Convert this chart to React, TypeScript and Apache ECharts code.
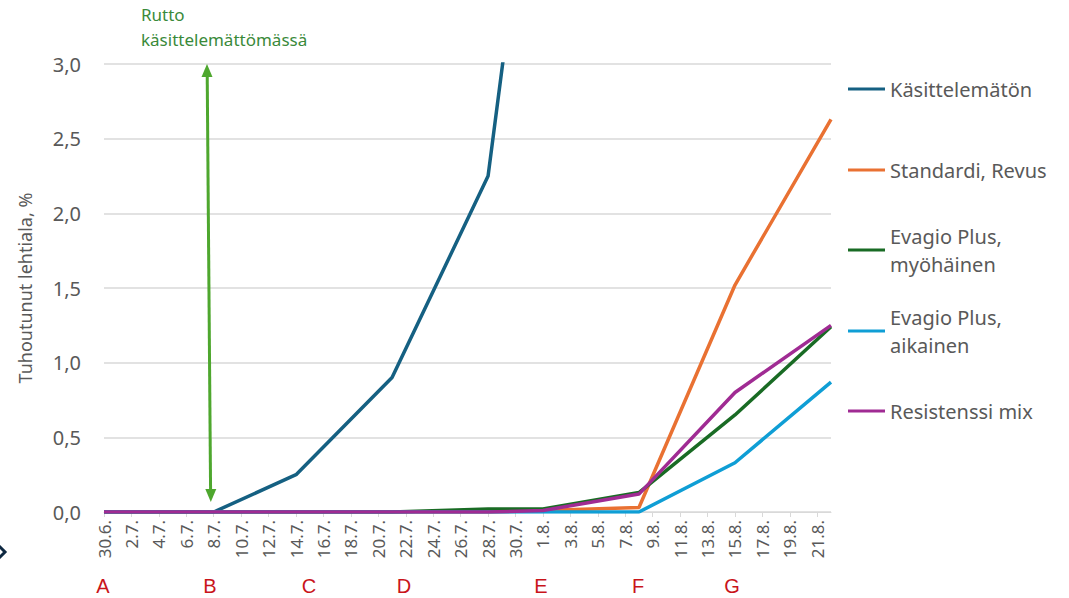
import React, { useEffect, useRef } from "react";
import * as echarts from "echarts";

// Daily categories 30.6. – 22.8.
const categories = [
  "30.6.",
  "1.7.", "2.7.", "3.7.", "4.7.", "5.7.", "6.7.", "7.7.", "8.7.", "9.7.", "10.7.",
  "11.7.", "12.7.", "13.7.", "14.7.", "15.7.", "16.7.", "17.7.", "18.7.", "19.7.", "20.7.",
  "21.7.", "22.7.", "23.7.", "24.7.", "25.7.", "26.7.", "27.7.", "28.7.", "29.7.", "30.7.", "31.7.",
  "1.8.", "2.8.", "3.8.", "4.8.", "5.8.", "6.8.", "7.8.", "8.8.", "9.8.", "10.8.",
  "11.8.", "12.8.", "13.8.", "14.8.", "15.8.", "16.8.", "17.8.", "18.8.", "19.8.", "20.8.",
  "21.8.", "22.8.",
];

const seriesNames = [
  "Käsittelemätön",
  "Standardi, Revus",
  "Evagio Plus,\nmyöhäinen",
  "Evagio Plus,\naikainen",
  "Resistenssi mix",
];
const seriesColors = ["#156082", "#e97132", "#196b24", "#0f9ed5", "#a02b93"];

const untreatedDates = ["30.6.", "8.7.", "14.7.", "21.7.", "28.7.", "4.8."];
const untreatedValues = [0, 0, 0.25, 0.9, 2.25, 7.2];

const obsDates = ["30.6.", "8.7.", "14.7.", "21.7.", "28.7.", "1.8.", "8.8.", "15.8.", "22.8."];
const standardiValues = [0, 0, 0, 0, 0, 0.01, 0.03, 1.52, 2.63];
const myohainenValues = [0, 0, 0, 0, 0.02, 0.02, 0.13, 0.65, 1.24];
const aikainenValues = [0, 0, 0, 0, 0, 0, 0, 0.33, 0.87];
const resistenssiValues = [0, 0, 0, 0, 0, 0.01, 0.12, 0.8, 1.25];

const yTicks = { min: 0, max: 3, interval: 0.5 };

const phaseLetters = ["A", "B", "C", "D", "E", "F", "G"];
const phaseX = [103, 210, 309, 404, 541, 638, 732];

const FONT = "'Noto Sans', 'DejaVu Sans', sans-serif";
const GRAY = "#595959";

export default function App() {
  const ref = useRef<HTMLDivElement>(null);

  useEffect(() => {
    if (!ref.current) return;
    const chart = echarts.init(ref.current, undefined, { renderer: "svg" });

    const valueSets = [untreatedValues, standardiValues, myohainenValues, aikainenValues, resistenssiValues];
    const series = seriesNames.map((name, i) => {
      const dates = i === 0 ? untreatedDates : obsDates;
      return {
        name,
        type: "line",
        data: dates.map((d, j) => [d, valueSets[i][j]]),
        showSymbol: false,
        symbol: "none",
        lineStyle: { color: seriesColors[i], width: 3.5 },
        itemStyle: { color: seriesColors[i] },
        clip: true,
        z: 2 + i,
      };
    });

    const legendIconY = [89, 170, 250, 331, 411];
    const legends = seriesNames.map((name, i) => {
      const twoLine = name.includes("\n");
      return {
        data: [name],
        left: 848,
        top: twoLine ? legendIconY[i] - 42 : legendIconY[i] - 12,
        padding: 0,
        icon: "rect",
        itemWidth: 37,
        itemHeight: 3,
        itemGap: 0,
        selectedMode: false,
        textStyle: twoLine
          ? { fontSize: 20, color: GRAY, fontFamily: FONT, lineHeight: 28, padding: [28, 0, 0, 0] }
          : { fontSize: 20, color: GRAY, fontFamily: FONT, lineHeight: 24 },
      };
    });

    const arrowColor = "#4ea72e";
    const graphics: any[] = [
      {
        type: "line",
        shape: { x1: 207.2, y1: 74, x2: 210.6, y2: 492 },
        style: { stroke: arrowColor, lineWidth: 3 },
        z: 10,
      },
      {
        type: "polygon",
        shape: { points: [[207, 64], [201.5, 77], [212.5, 77]] },
        style: { fill: arrowColor },
        z: 10,
      },
      {
        type: "polygon",
        shape: { points: [[210.8, 502], [205.3, 489], [216.3, 489]] },
        style: { fill: arrowColor },
        z: 10,
      },
      {
        type: "text",
        left: 141,
        top: 2,
        style: {
          text: "Rutto\nkäsittelemättömässä",
          fill: "#3a8a3a",
          font: `17px ${FONT}`,
          lineHeight: 25,
        },
        z: 10,
      },
      {
        type: "polyline",
        shape: { points: [[-1, 546], [5, 552], [-1, 558]] },
        style: { stroke: "#0e2841", lineWidth: 3, fill: "none" },
      },
      ...phaseLetters.map((l, i) => ({
        type: "text",
        x: phaseX[i],
        y: 586,
        style: {
          text: l,
          fill: "#c9141a",
          font: `20px 'Liberation Sans', Arial, sans-serif`,
          textAlign: "center",
          textVerticalAlign: "middle",
        },
      })),
    ];

    chart.setOption({
      animation: false,
      grid: { left: 104, right: 238, top: 64, bottom: 86, containLabel: false },
      legend: legends,
      xAxis: {
        type: "category",
        data: categories,
        boundaryGap: false,
        axisLine: { show: true, lineStyle: { color: "#d9d9d9", width: 1 } },
        axisTick: { show: true, interval: 1, length: 5, lineStyle: { color: "#d9d9d9" } },
        axisLabel: {
          interval: 1,
          rotate: 90,
          margin: 8,
          fontSize: 17,
          color: GRAY,
          fontFamily: FONT,
        },
        splitLine: { show: false },
      },
      yAxis: {
        type: "value",
        min: yTicks.min,
        max: yTicks.max,
        interval: yTicks.interval,
        name: "Tuhoutunut lehtiala, %",
        nameLocation: "middle",
        nameGap: 70,
        nameTextStyle: { fontSize: 18, color: GRAY, fontFamily: FONT },
        axisLine: { show: false },
        axisTick: { show: false },
        axisLabel: {
          margin: 23,
          fontSize: 20,
          color: GRAY,
          fontFamily: FONT,
          formatter: (v: number) => v.toFixed(1).replace(".", ","),
        },
        splitLine: { lineStyle: { color: "#d9d9d9", width: 1.5 } },
      },
      series,
      graphic: graphics,
    });

    return () => chart.dispose();
  }, []);

  return (
    <div
      ref={ref}
      style={{ position: "fixed", left: 0, top: 0, width: 1069, height: 598, background: "#fff" }}
    />
  );
}
